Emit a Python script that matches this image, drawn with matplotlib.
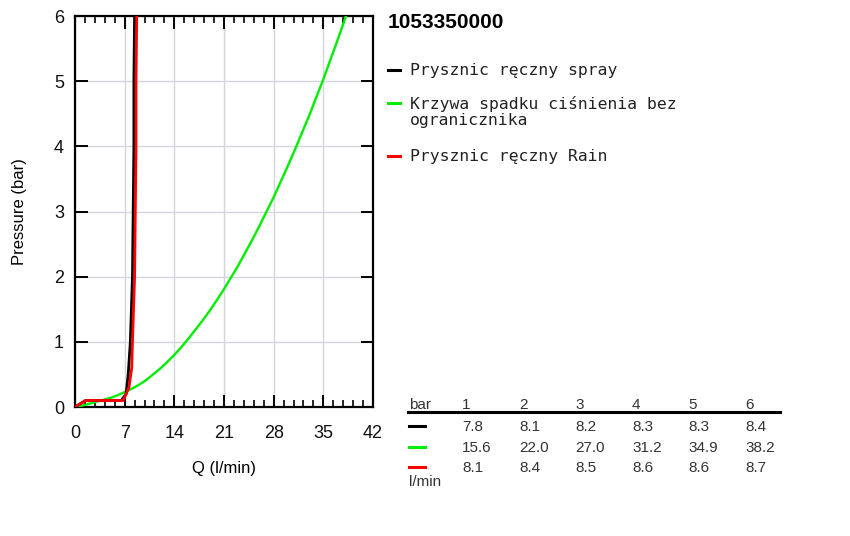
import matplotlib
matplotlib.use("Agg")
import matplotlib.pyplot as plt
from matplotlib.lines import Line2D
from matplotlib.ticker import MultipleLocator

# ---- data ----
title = "1053350000"
series_names = ["Prysznic ręczny spray", "Krzywa spadku ciśnienia bez\nogranicznika", "Prysznic ręczny Rain"]
series_colors = ["#000000", "#00ee00", "#ff0000"]

spray_q = [0, 1.5, 6.5, 7.2, 7.5, 7.8, 8.1, 8.2, 8.3, 8.3, 8.4]
spray_p = [0, 0.1, 0.1, 0.2, 0.5, 1.0, 2.0, 3.0, 4.0, 5.0, 6.0]

free_q = [0, 1, 2, 3, 4, 5, 6, 7, 8, 9, 10, 11, 12, 13, 14, 15, 16, 17, 18, 19, 20,
          21, 22, 23, 24, 25, 26, 27, 28, 29, 30, 31, 32, 33, 34, 35, 36, 37, 38.2]
free_p = [0, 0.02, 0.05, 0.08, 0.11, 0.14, 0.18, 0.23, 0.28, 0.34, 0.41, 0.5, 0.59,
          0.69, 0.8, 0.92, 1.05, 1.19, 1.33, 1.48, 1.64, 1.81, 1.99, 2.17, 2.37, 2.57,
          2.78, 3.0, 3.22, 3.46, 3.7, 3.95, 4.21, 4.47, 4.75, 5.03, 5.33, 5.63, 6.0]

rain_q = [0, 1.5, 6.8, 7.6, 8.0, 8.1, 8.4, 8.5, 8.6, 8.6, 8.7]
rain_p = [0, 0.1, 0.1, 0.3, 0.6, 1.0, 2.0, 3.0, 4.0, 5.0, 6.0]

table_bars = ["1", "2", "3", "4", "5", "6"]
table_rows = [
    ["7.8", "8.1", "8.2", "8.3", "8.3", "8.4"],
    ["15.6", "22.0", "27.0", "31.2", "34.9", "38.2"],
    ["8.1", "8.4", "8.5", "8.6", "8.6", "8.7"],
]

W, H = 850, 536
fig = plt.figure(figsize=(W / 100, H / 100), dpi=100)

def fx(px):
    return px / W

def fy(py):
    return 1 - py / H

ax = fig.add_axes([fx(75), fy(407), fx(373) - fx(75), fy(16) - fy(407)])
ax.set_xlim(0, 42)
ax.set_ylim(0, 6)

ax.plot(free_q, free_p, color=series_colors[1], lw=1.7, zorder=3,
        solid_joinstyle="round")
ax.plot(spray_q, spray_p, color=series_colors[0], lw=2.0, zorder=4)
ax.plot(rain_q, rain_p, color=series_colors[2], lw=2.0, zorder=5)

ax.xaxis.set_major_locator(MultipleLocator(7))
ax.xaxis.set_minor_locator(MultipleLocator(1.4))
ax.yaxis.set_major_locator(MultipleLocator(1))
ax.grid(True, which="major", color="#d3d6df", lw=1.0, zorder=0)
ax.set_axisbelow(True)

for s in ax.spines.values():
    s.set_linewidth(1.6)
    s.set_color("black")

ax.tick_params(axis="x", which="major", direction="in", length=9, width=1.4,
               top=True, bottom=True, pad=13, labelsize=13)
ax.tick_params(axis="x", which="minor", direction="in", length=5, width=1.2,
               top=True, bottom=True)
ax.tick_params(axis="y", which="major", direction="in", length=9, width=1.4,
               left=True, right=True, pad=8, labelsize=13)
for lab in ax.get_xticklabels() + ax.get_yticklabels():
    lab.set_fontfamily("Liberation Sans")
    lab.set_color("#111111")

ax.set_xlabel("Q (l/min)", fontsize=12, family="Liberation Sans", labelpad=14)
ax.set_ylabel("Pressure (bar)", fontsize=12, family="Liberation Sans", labelpad=19)

# title
fig.text(fx(388), fy(23), title, fontsize=15, fontweight="bold",
         family="Liberation Sans", ha="left", va="center")

# legend
leg_y = [70, 103, 156]
text_y = [70, 112, 156]
for name, col, ly, ty in zip(series_names, series_colors, leg_y, text_y):
    fig.add_artist(Line2D([fx(388), fx(400)], [fy(ly), fy(ly)], color=col, lw=2.2,
                          transform=fig.transFigure))
    fig.text(fx(410), fy(ty), name, fontsize=11.8, family="DejaVu Sans Mono",
             color="#222222", ha="left", va="center", linespacing=1.15)

# table
col_x = [462, 519, 575, 632, 688, 745]
tcol = "#333333"
tfont = dict(fontsize=11, family="Liberation Sans", color=tcol, va="center", ha="left")
fig.text(fx(409), fy(405), "bar", **tfont)
for cx, b in zip(col_x, table_bars):
    fig.text(fx(cx), fy(405), b, **tfont)
fig.add_artist(Line2D([fx(408), fx(780)], [fy(412), fy(412)], color="black", lw=2.2,
                      transform=fig.transFigure))
row_y = [427, 448, 468]
for ry, row, col in zip(row_y, table_rows, series_colors):
    fig.add_artist(Line2D([fx(409), fx(425)], [fy(ry - 1), fy(ry - 1)], color=col, lw=2.2,
                          transform=fig.transFigure))
    for cx, v in zip(col_x, row):
        fig.text(fx(cx), fy(ry), v, **tfont)
fig.text(fx(409), fy(482), "l/min", **tfont)

fig.savefig("out.png", dpi=100)
